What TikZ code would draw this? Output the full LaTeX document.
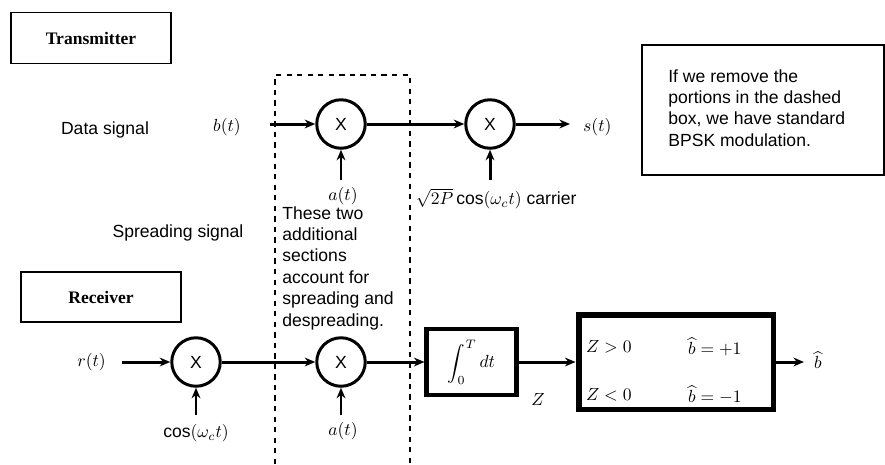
\documentclass[tikz,border=0pt]{standalone}
\usepackage{fontspec}
\setmainfont{Liberation Sans}
\newfontfamily\serif{Liberation Serif}
\usetikzlibrary{arrows.meta}

\begin{document}
\begin{tikzpicture}[x=0.02cm, y=-0.02cm, font=\fontsize{10}{12.2}\selectfont]
    \useasboundingbox (0,0) rectangle (885,464);

    % title boxes
    \node[draw, line width=0.8pt, minimum width=3.2cm, minimum height=1.02cm] (T_tx) at (91,38) {\serif\bfseries Transmitter};
    \node[draw, line width=0.8pt, minimum width=3.2cm, minimum height=1.0cm] (T_rx) at (101,297) {\serif\bfseries Receiver};

    % note box
    \draw[line width=0.8pt] (642,45) rectangle (884,175);
    \node[anchor=north west, align=left, inner sep=0] (note) at (668,69)
        {If we remove the\\ portions in the dashed\\ box, we have standard\\ BPSK modulation.};

    % dashed box
    \draw[dashed, line width=0.6pt] (275,464) -- (275,75) -- (410,75) -- (410,464);

    \begin{scope}[every node/.style={draw=black, circle, line width=1.7pt, minimum size=0.97cm, inner sep=0}]
        \node (M_1) at (341,124) {X};
        \node (M_2) at (490,124) {X};

        \node (M_3) at (196,362) {X};
        \node (M_4) at (341,362) {X};
    \end{scope}

    \node[draw, line width=2.3pt, minimum width=1.8cm, minimum height=1.32cm] (I) at (471.5,362)
        {$\displaystyle\int_0^T dt$};
    \node[draw, line width=3.4pt, minimum width=3.9cm, minimum height=1.9cm] (D) at (676,362) {};
    \node[anchor=west, inner sep=1pt] (D_1) at (584,347) {$Z > 0$};
    \node[anchor=west, inner sep=1pt] (D_2) at (584,395) {$Z < 0$};
    \node[anchor=west, inner sep=1pt] (D_3) at (686,347) {$\widehat{b} = +1$};
    \node[anchor=west, inner sep=1pt] (D_4) at (686,395) {$\widehat{b} = -1$};

    % free ends
    \coordinate (b_in) at (270,124);
    \coordinate (s_out) at (570,124);
    \coordinate (a_tx) at (341,180);
    \coordinate (c_tx) at (490,180);
    \coordinate (r_in) at (122,362);
    \coordinate (cos_in) at (196,415);
    \coordinate (a_rx) at (341,415);
    \coordinate (bh_out) at (804,362);

    \begin{scope}[every edge/.style={draw=black, line width=1.7pt, -{Stealth[length=6pt, width=5pt]}}]
        \path (b_in) edge (M_1);
        \path (M_1) edge (M_2);
        \path (M_2) edge (s_out);
        \path (a_tx) edge (M_1);
        \path (c_tx) edge (M_2);

        \path (r_in) edge (M_3);
        \path (M_3) edge (M_4);
        \path (cos_in) edge (M_3);
        \path (a_rx) edge (M_4);
        \path (M_4) edge (I);
        \path (I) edge (D);
        \path (D) edge (bh_out);
    \end{scope}

    % labels
    \node (L_data) at (105,130) {Data signal};
    \node (L_spread) at (178,233) {Spreading signal};
    \node[anchor=east] (L_b) at (247,127) {$b(t)$};
    \node[anchor=west] (L_s) at (577,127) {$s(t)$};
    \node (L_a1) at (343,196) {$a(t)$};
    \node[anchor=west] (L_c) at (410,199) {$\sqrt{2P}\cos(\omega_c t)$ carrier};
    \node[anchor=north west, align=left, inner sep=0] (L_note) at (282,206)
        {These two\\ additional\\ sections\\ account for\\ spreading and\\ despreading.};
    \node[anchor=east] (L_r) at (112,362) {$r(t)$};
    \node (L_cos) at (196,433) {$\cos(\omega_c t)$};
    \node (L_a2) at (343,431) {$a(t)$};
    \node (L_z) at (538,399) {$Z$};
    \node[anchor=west, inner sep=1pt] (L_bh) at (812,360) {$\widehat{b}$};
\end{tikzpicture}
\end{document}
